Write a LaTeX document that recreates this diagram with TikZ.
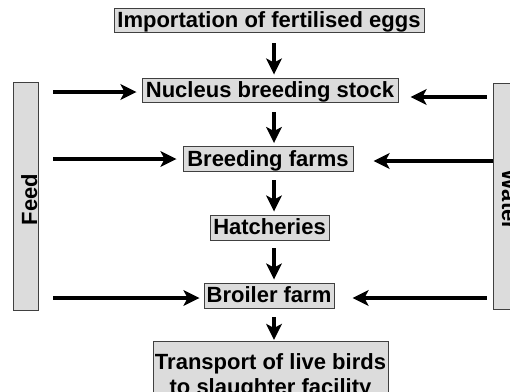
\documentclass[tikz,border=0pt]{standalone}
\usepackage{fontspec}
\setmainfont{Liberation Sans}
\usetikzlibrary{arrows.meta}
\definecolor{boxgray}{HTML}{DCDCDC}
\begin{document}
\begin{tikzpicture}[x=1pt,y=1pt,
  txt/.style={font=\fontsize{22}{25}\selectfont\bfseries},
  box/.style={txt, draw=black!75, line width=0.9pt, fill=boxgray, inner sep=0pt,
    text height=15.8pt, text depth=1.8pt},
  tbox/.style={txt, draw=black!75, line width=0.9pt, fill=boxgray, inner sep=0pt, align=center},
  bar/.style={draw=black!75, line width=0.9pt, fill=boxgray, minimum width=25pt, inner sep=0pt},
  lbl/.style={txt, inner sep=0pt, anchor=base},
  arr/.style={line width=4.6pt, -{Stealth[length=16pt,width=15.5pt,inset=4pt]}}]
\useasboundingbox (0,0) rectangle (510,-391);

% boxes
\node[box, minimum width=310pt, minimum height=24pt] (imp) at (269,-20) {Importation of fertilised eggs};
\node[box, minimum width=256pt, minimum height=24pt] (nuc) at (270,-90) {Nucleus breeding stock};
\node[box, minimum width=170pt, minimum height=25pt] (breed) at (268,-159) {Breeding farms};
\node[box, minimum width=119pt, minimum height=25pt] (hatch) at (269.5,-227.5) {Hatcheries};
\node[box, minimum width=130pt, minimum height=25pt] (broil) at (269,-295.5) {Broiler farm};
\node[tbox, minimum width=235pt, minimum height=70pt, anchor=north] (trans) at (270.5,-341) {Transport of live birds\\to slaughter facility};

% side bars
\node[bar, minimum height=228pt] (feed) at (25.5,-196) {};
\node[bar, minimum height=226pt] (water) at (505.5,-196) {};
\node[lbl, rotate=90] (feedlbl) at (37,-199.5) {Feed};
\node[lbl, rotate=-90] (waterlbl) at (502,-200) {Water};

% helper coordinates
\coordinate (ax) at (274,0);
\coordinate (l1) at (0,-92);
\coordinate (l2) at (0,-159);
\coordinate (l3) at (0,-298);
\coordinate (r1) at (0,-97);
\coordinate (r2) at (0,-161);
\coordinate (r3) at (0,-298);

% vertical flow
\draw[arr, shorten <=11pt, shorten >=3pt] (imp.south -| ax) -- (nuc.north -| ax);
\draw[arr, shorten <=10pt, shorten >=3pt] (nuc.south -| ax) -- (breed.north -| ax);
\draw[arr, shorten <=8.5pt, shorten >=3pt] (breed.south -| ax) -- (hatch.north -| ax);
\draw[arr, shorten <=8pt, shorten >=3pt] (hatch.south -| ax) -- (broil.north -| ax);
\draw[arr, shorten <=9pt, shorten >=1pt] (broil.south -| ax) -- (trans.north -| ax);

% feed arrows
\draw[arr, shorten <=15pt, shorten >=5pt] (feed.east |- l1) -- (nuc.west |- l1);
\draw[arr, shorten <=15pt, shorten >=6pt] (feed.east |- l2) -- (breed.west |- l2);
\draw[arr, shorten <=15pt, shorten >=4pt] (feed.east |- l3) -- (broil.west |- l3);

% water arrows
\draw[arr, shorten <=6pt, shorten >=12pt] (water.west |- r1) -- (nuc.east |- r1);
\draw[arr, shorten <=0pt, shorten >=20pt] (water.west |- r2) -- (breed.east |- r2);
\draw[arr, shorten <=6pt, shorten >=18pt] (water.west |- r3) -- (broil.east |- r3);
\end{tikzpicture}
\end{document}
